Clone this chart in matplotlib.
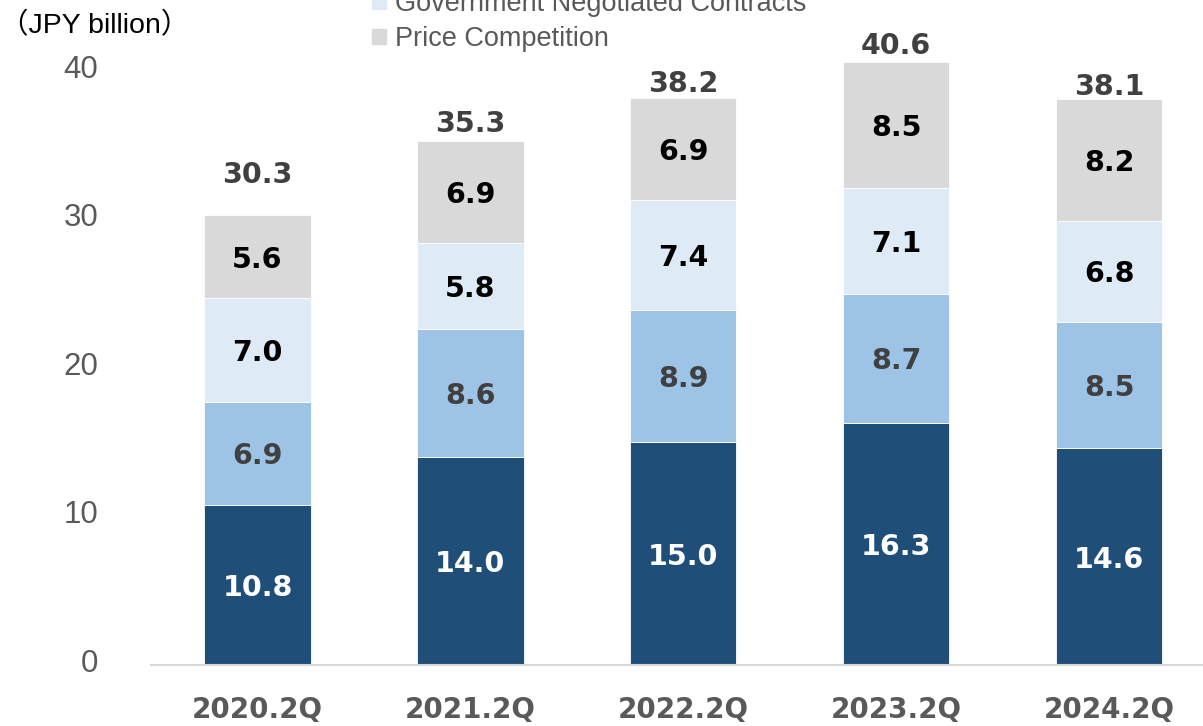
import matplotlib.pyplot as plt
from matplotlib.patches import Patch
import numpy as np

periods = ["2020.2Q", "2021.2Q", "2022.2Q", "2023.2Q", "2024.2Q"]
seg_dark = [10.8, 14.0, 15.0, 16.3, 14.6]
seg_mid = [6.9, 8.6, 8.9, 8.7, 8.5]
seg_gov = [7.0, 5.8, 7.4, 7.1, 6.8]
seg_price = [5.6, 6.9, 6.9, 8.5, 8.2]
totals = [30.3, 35.3, 38.2, 40.6, 38.1]
yticks = [0, 10, 20, 30, 40]

colors = ["#1F4E79", "#9DC3E6", "#DEEBF7", "#D9D9D9"]
label_colors = ["white", "#404040", "black", "black"]
total_gap = [43, 20, 17, 19, 15]  # px from bar top to centre of total label

W, H = 1203, 726
fig = plt.figure(figsize=(W / 100, H / 100), dpi=100)
ax = fig.add_axes([151 / W, 61 / H, 1064.5 / W, 653.4 / H])

x = np.arange(len(periods))
bottom = np.zeros(len(periods))
for vals, col, lc in zip([seg_dark, seg_mid, seg_gov, seg_price], colors, label_colors):
    vals = np.array(vals)
    ax.bar(x, vals, 0.5, bottom=bottom, color=col, edgecolor="white", linewidth=0.6)
    for xi, b, v in zip(x, bottom, vals):
        ax.text(xi, b + v / 2, f"{v:.1f}", ha="center", va="center_baseline",
                fontsize=20.5, fontweight="bold", color=lc, family="DejaVu Sans")
    bottom += vals

for xi, t, gap in zip(x, totals, total_gap):
    ax.annotate(f"{t:.1f}", (xi, t), xytext=(0, gap * 0.72), textcoords="offset points",
                ha="center", va="center_baseline", fontsize=20.5, fontweight="bold",
                color="#404040", family="DejaVu Sans")

ax.set_xlim(-0.5, 4.5)
ax.set_ylim(0, 44)
ax.set_yticks(yticks)
ax.set_xticks(x)
ax.set_xticklabels(periods, fontsize=20, fontweight="bold", color="#595959", family="DejaVu Sans")
ax.tick_params(axis="y", length=0, labelleft=False)
ax.tick_params(axis="x", length=0, pad=22)
# y labels sit a few px above their gridline in the original
for v in yticks:
    ax.annotate(str(v), (0, v), xycoords=("axes fraction", "data"),
                xytext=(-38, 3.5), textcoords="offset points", ha="right",
                va="center_baseline", fontsize=22.5, color="#595959",
                family="Liberation Sans")
for s in ["top", "right", "left"]:
    ax.spines[s].set_visible(False)
ax.spines["bottom"].set_color("#D9D9D9")
ax.spines["bottom"].set_linewidth(1.5)

fig.text(0 / W, 1 - 26 / H, "（JPY billion）", ha="left", va="center", fontsize=20.5,
         color="black", family=["Liberation Sans", "Noto Sans CJK JP"])

handles = [Patch(color=colors[2]), Patch(color=colors[3])]
fig.legend(handles, ["Government Negotiated Contracts", "Price Competition"],
           loc="upper left", bbox_to_anchor=(372 / W, 1 + 9 / H), frameon=False,
           prop={"family": "Liberation Sans", "size": 19.5}, labelcolor="#595959",
           handlelength=0.5, handleheight=0.5, handletextpad=0.35,
           labelspacing=0.33, borderpad=0, borderaxespad=0)

fig.savefig("out.png", dpi=100)
